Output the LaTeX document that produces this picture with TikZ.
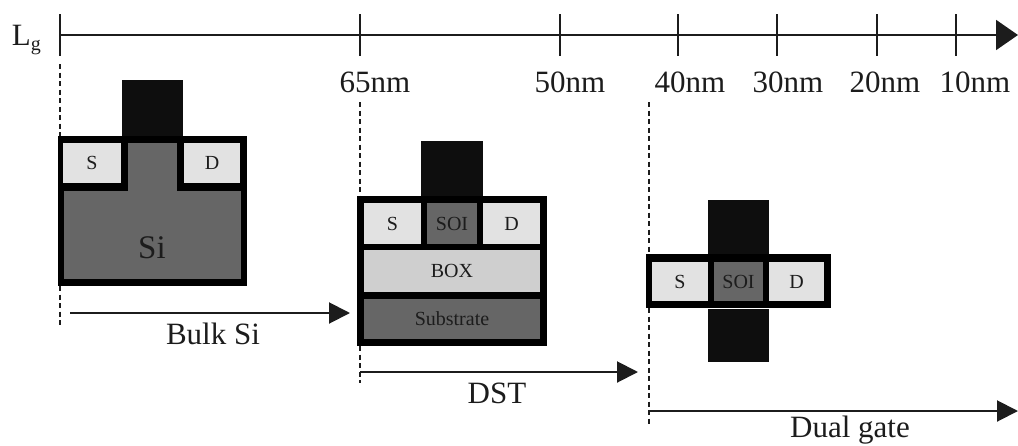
\documentclass[tikz,border=0pt]{standalone}
\usepackage{fontspec}
\setmainfont{Liberation Serif}
\usetikzlibrary{arrows.meta}
\tikzset{
  x=1pt,y=-1pt,
  region/.style={inner sep=0pt,outer sep=0pt,anchor=north west,text=ink},
  label/.style={inner sep=0pt,outer sep=0pt,anchor=base,text=ink,font=\fontsize{31}{31}\selectfont},
  small/.style={font=\fontsize{20}{20}\selectfont},
  axisline/.style={draw=ink,line width=1.6pt},
  tick/.style={draw=ink,line width=1.8pt},
  guide/.style={draw=ink,line width=1.7pt,dash pattern=on 5pt off 3.5pt},
  span/.style={draw=ink,line width=2pt,-{Triangle[length=21pt,width=21pt]}},
  bigspan/.style={draw=ink,line width=2pt,-{Triangle[length=22pt,width=30pt]}}
}
\definecolor{ink}{HTML}{1C1C1C}
\definecolor{gatec}{HTML}{0E0E0E}
\definecolor{sic}{HTML}{666666}
\definecolor{lightc}{HTML}{E2E2E2}
\definecolor{boxc}{HTML}{CFCFCF}
\begin{document}
\begin{tikzpicture}
\useasboundingbox (0,0) rectangle (1018,445);
% axis
\coordinate (a0) at (60,35); \coordinate (aend) at (1018,35);
\draw[bigspan] (a0) -- (aend);
\foreach \n/\x in {t0/60,t65/360,t50/560,t40/678,t30/777,t20/877,t10/956}{
  \coordinate (\n a) at (\x,14); \coordinate (\n b) at (\x,56);
  \draw[tick] (\n a) -- (\n b);
}
\node[label,anchor=base west] (lg) at (12,45) {L\raisebox{-5pt}{\fontsize{20}{20}\selectfont g}};
\node[label] (n65) at (375,92) {65nm};
\node[label] (n50) at (570,92) {50nm};
\node[label] (n40) at (690,92) {40nm};
\node[label] (n30) at (788,92) {30nm};
\node[label] (n20) at (885,92) {20nm};
\node[label] (n10) at (975,92) {10nm};
% guides
\coordinate (g1a) at (60,64); \coordinate (g1b) at (60,136);
\coordinate (g1c) at (60,286); \coordinate (g1d) at (60,325);
\coordinate (g2a) at (360,102); \coordinate (g2b) at (360,196);
\coordinate (g2c) at (360,346); \coordinate (g2d) at (360,383);
\coordinate (g3a) at (649,102); \coordinate (g3b) at (649,254);
\coordinate (g3c) at (649,308); \coordinate (g3d) at (649,424);
\draw[guide] (g1a) -- (g1b) (g1c) -- (g1d);
\draw[guide] (g2a) -- (g2b) (g2c) -- (g2d);
\draw[guide] (g3a) -- (g3b) (g3c) -- (g3d);
% bulk device
\node[region,fill=gatec,minimum width=61pt,minimum height=56pt] (bgate) at (122,80) {};
\node[region,fill=black,minimum width=189pt,minimum height=150pt] (bouter) at (58,136) {};
\node[region,fill=sic,minimum width=177pt,minimum height=136pt] (bbody) at (64,143) {};
\node[region,fill=black,minimum width=64pt,minimum height=48pt] (bsn) at (64,143) {};
\node[region,fill=black,minimum width=64pt,minimum height=48pt] (bdn) at (177,143) {};
\node[region,fill=lightc,small,minimum width=58pt,minimum height=40pt] (bs) at (63,143) {S};
\node[region,fill=lightc,small,minimum width=56pt,minimum height=40pt] (bd) at (184,143) {D};
\node[label,font=\fontsize{33}{33}\selectfont] (bsi) at (152,258) {Si};
% DST device
\node[region,fill=gatec,minimum width=62pt,minimum height=55pt] (dgate) at (421,141) {};
\node[region,fill=black,minimum width=190pt,minimum height=150pt] (douter) at (357,196) {};
\node[region,fill=lightc,small,minimum width=57pt,minimum height=41pt] (ds) at (364,203) {S};
\node[region,fill=sic,small,minimum width=50pt,minimum height=41pt] (dsoi) at (427,203) {SOI};
\node[region,fill=lightc,small,minimum width=57pt,minimum height=41pt] (dd) at (483,203) {D};
\node[region,fill=boxc,small,minimum width=176pt,minimum height=42pt] (dbox) at (364,250) {BOX};
\node[region,fill=sic,small,minimum width=176pt,minimum height=40pt] (dsub) at (364,299) {Substrate};
% dual gate device
\node[region,fill=gatec,minimum width=61pt,minimum height=54pt] (ugate) at (708,200) {};
\node[region,fill=gatec,minimum width=61pt,minimum height=53pt] (lgate) at (708,309) {};
\node[region,fill=black,minimum width=185pt,minimum height=54pt] (uouter) at (646,254) {};
\node[region,fill=lightc,small,minimum width=56pt,minimum height=39pt] (us) at (652,262) {S};
\node[region,fill=sic,small,minimum width=49pt,minimum height=39pt] (usoi) at (714,262) {SOI};
\node[region,fill=lightc,small,minimum width=55pt,minimum height=39pt] (ud) at (769,262) {D};
% spans
\coordinate (s1a) at (70,313); \coordinate (s1b) at (350,313);
\coordinate (s2a) at (360,372); \coordinate (s2b) at (638,372);
\coordinate (s3a) at (649,411); \coordinate (s3b) at (1018,411);
\draw[span] (s1a) -- (s1b);
\draw[span] (s2a) -- (s2b);
\draw[span] (s3a) -- (s3b);
\node[label] (lbulk) at (213,344) {Bulk Si};
\node[label] (ldst) at (497,403) {DST};
\node[label] (ldual) at (850,437.5) {Dual gate};
\end{tikzpicture}
\end{document}
